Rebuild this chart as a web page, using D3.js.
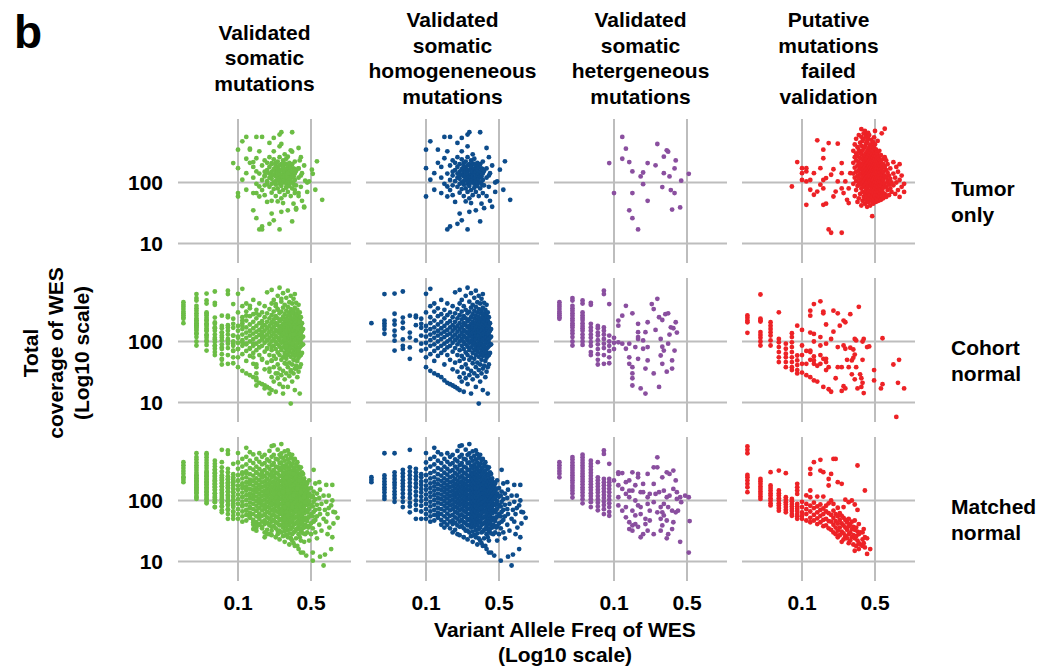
<!doctype html>
<html>
<head>
<meta charset="UTF-8">
<title>VAF vs coverage of WES</title>
<script src="https://cdn.jsdelivr.net/npm/d3@7"></script>
<style>
  body { margin: 0; background: #fff; }
  text { font-family: "Liberation Sans", Arial, Helvetica, sans-serif; font-weight: bold; fill: #000; }
  .grid { stroke: #bdbdbd; stroke-width: 2px; }
</style>
</head>
<body>
<svg id="chart" width="1039" height="668"></svg>
<script>
// Facet labels and ticks
const columnTitles = [
  ["Validated", "somatic", "mutations"],
  ["Validated", "somatic", "homogeneneous", "mutations"],
  ["Validated", "somatic", "hetergeneous", "mutations"],
  ["Putative", "mutations", "failed", "validation"]
];
const rowTitles = [["Tumor", "only"], ["Cohort", "normal"], ["Matched", "normal"]];
const xTicks = [0.1, 0.5];
const yTicks = [10, 100];
const colColors = ["#6cbd45", "#0d4c8b", "#8a4f9f", "#ed2226"];

// Points grouped by VAF (2 decimals) -> "vaf:depth,depth,...|vaf:..."
const tumorHomo = "0.10:345,172,59|0.11:474,111|0.12:142,76|0.13:345,210|0.14:67,180,120|0.15:559,95,250|0.16:86,59,324,140,17|0.17:559,190,19,110,75|0.18:150,230,130,90,62|0.19:210,105,160,48|0.20:445,120,180,85,260,21,140|0.21:31,200,95,150,68,115,130|0.22:538,324,165,100,24,135,78,240|0.23:185,125,60,210,92,150,105|0.24:49,150,110,220,170,80,130|0.25:610,392,17,140,95,190,115,70,260,160|0.26:667,33,160,105,125,200,88,55|0.27:46,180,135,75,230,100,120,155|0.28:150,110,205,62,125,290|0.29:170,95,140,82,245,115,200|0.30:35,120,190,150,70,105|0.31:210,130,88,160,100,180|0.32:115,175,60,140|0.33:667,23,100,150,200,80,125|0.34:125,170,45,95|0.35:67,140,110,220,90,165|0.36:90,155,38|0.38:368,120,170,60|0.40:130,85,260|0.41:142,50|0.43:40,190|0.46:100,70|0.48:104|0.51:162|0.55:76|0.57:222|0.64:52";
const tumorHetero = "0.09:208|0.10:67|0.12:559,245|0.13:359|0.14:216,35|0.15:152,67,26|0.17:17|0.18:126|0.19:146,94|0.21:208,50|0.25:191|0.26:428|0.29:84|0.30:265,142|0.32:337|0.33:320|0.34:126|0.35:75|0.36:36|0.38:170,67|0.39:230|0.43:39|0.44:107|0.52:139";
const tumorFailed = "0.08:86|0.09:216|0.10:172,142,110|0.11:104,152,172,43|0.12:76,110|0.13:142,63|0.14:492,71|0.15:92,172|0.16:345,250,110,43,80|0.17:45,118|0.18:443,17|0.19:134,15|0.20:59,165|0.21:71|0.22:433,104|0.24:80,208,142,15|0.25:67|0.26:104|0.27:52|0.28:80,46|0.29:142|0.31:95,140,210,330|0.32:60,120,175,260,420|0.33:75,105,150,230,300,520|0.34:48,88,130,190,270,380|0.35:55,100,118,160,215,340,600|0.36:65,92,140,180,250,310,450|0.37:42,80,110,135,170,200,290,400,560,750|0.38:50,70,98,125,155,190,235,330,480|0.39:58,85,105,145,165,210,260,360,520,640|0.40:45,66,90,115,130,150,175,220,280,390,700|0.41:52,75,95,120,140,160,195,240,300,430,580|0.42:40,60,82,100,125,145,170,205,250,320,470|0.43:48,68,88,110,132,150,180,215,270,350,520,650|0.44:55,72,95,115,138,158,190,230,290,380,600|0.45:42,62,85,105,125,148,172,200,240,310,420|0.46:50,70,92,112,135,160,185,220,265,340,500|0.47:28,58,78,98,120,142,168,195,235,290,390|0.48:45,65,88,108,130,152,178,210,255,330,460|0.49:52,75,95,118,140,165,190,230,280,370,550|0.50:60,82,102,125,150,175,205,245,300,420,700|0.51:48,70,90,115,138,160,185,220,270,350|0.52:55,78,100,122,148,172,200,240,310|0.53:62,85,110,135,160,190,230,290,480|0.54:50,72,95,120,145,175,210,260|0.55:58,80,105,130,160,195,240,330|0.56:65,90,115,145,180,225|0.57:52,75,100,130,165,210,280|0.58:60,88,120,150,190,640|0.59:70,98,135,175,240|0.60:55,82,110,150,200|0.62:65,95,130,180,260,760|0.64:58,85,120,160,230|0.66:75,105,145,200|0.68:62,92,130|0.70:80,115,170|0.72:70,100|0.75:90,140,215|0.78:65,120|0.80:100,180|0.83:75,150|0.86:58,110,200|0.90:85,130|0.95:70,95";

const cohortHomo = "0.03:200|0.04:600,220,200,180,160,134|0.05:610,285,220,190,150,125,103,71|0.06:660,247,205,165,108,85,76|0.07:265,140,116,80,52|0.08:265,250,185,104|0.09:236,195,168,125,92,71|0.10:605,300,180,150,120,95,75,55,38|0.11:730,380,250,200,160,130,105,85,62,33|0.12:420,310,220,170,140,115,90,70,48,30|0.13:350,260,190,150,125,100,78,58,28|0.14:480,280,210,165,135,110,85,65,26|0.15:330,240,180,145,118,92,72,42,23|0.16:420,270,200,155,128,100,80,60,21|0.17:300,215,170,135,108,85,50,20|0.18:380,250,185,150,120,95,68,35,19|0.19:640,290,210,165,130,105,78,45,18|0.20:340,240,180,145,115,90,60,32,17|0.21:700,420,270,200,160,125,100,72,48,26,16|0.22:480,310,230,175,140,110,85,58,38,22|0.23:380,260,200,155,125,98,75,52,30,15|0.24:560,330,240,185,145,115,90,66,42,25|0.25:760,290,215,170,135,105,82,60,36,20|0.26:450,310,230,180,148,120,95,72,50,28|0.27:620,360,250,195,160,130,102,80,55,33,14|0.28:400,280,210,170,150,138,112,98,88,65,44,24|0.29:520,320,240,190,150,122,96,74,52,30|0.30:680,370,265,205,165,135,120,108,84,72,60,38,18|0.31:440,300,225,178,145,118,92,68,45,27|0.32:560,340,250,195,155,140,125,100,88,78,56,34,9.6|0.33:420,290,215,170,140,112,88,64,42,22|0.34:500,320,235,185,150,120,105,95,72,62,50,30|0.35:600,360,260,200,160,130,104,80,58,36,16|0.36:430,290,215,172,140,125,110,86,74,62,40|0.37:330,240,185,148,118,92,70,48,26|0.38:400,270,200,160,128,115,100,76,66,54,32|0.39:300,220,170,135,105,80,58,38,14|0.40:250,180,140,125,110,95,84,60,42|0.41:200,150,115,88,65|0.42:160,120,90";
const cohortHetero = "0.03:440,400,370,340,310,290,270,250,235|0.04:515,470,385,350,320,290,265,240,220,200,185,170,150,135,118,100,86|0.05:470,420,300,270,245,225,200,180,165,150,130,115,100,88|0.06:430,400,195,170,150,130,115,98,85,67,60|0.07:180,165,140,125,105,90,75,62,50,42|0.08:680,600,170,150,130,110,92,78,60,43|0.09:410,125,100,85,70,55,44|0.10:115,95,75|0.11:220,182,97|0.12:265,92|0.13:385,76|0.14:55,92,43|0.15:290,38,30,25,19|0.16:81|0.17:52,195,142,110,118|0.18:17|0.19:76,104|0.20:142,14,36|0.21:207,81,49|0.23:410|0.24:340,30|0.25:155|0.26:500|0.27:250,18|0.28:110,59|0.29:225,82,43|0.30:71|0.31:280|0.32:32|0.33:290,92|0.34:130|0.35:171|0.36:36,49|0.37:165|0.38:71|0.39:207|0.40:140";
const cohortFailed = "0.03:267,245,221,207,139|0.04:590,236,224,212,143,128,115,100,86|0.05:207,182,161,142,125,104,86|0.06:301,110,97,81,67,55,46|0.07:92,76,63,55,46,38|0.08:137,118,97,81,67,55,46,38,34|0.09:182,59,49,41,34,30|0.10:31,155,86,43,60|0.11:28,43,70|0.12:320,265,26,140,71,67,50|0.13:410,23,133,57,43,49,100|0.14:22,40|0.15:455,118,43,86,60|0.16:310,290,18,52|0.17:190,92,52,46,34|0.18:16.5,38|0.19:15,110|0.20:320,145|0.21:25|0.22:290,38,81|0.23:182|0.24:38,15.5|0.25:220,86,18.5|0.26:207,76,17|0.27:50|0.28:38|0.29:280,79|0.30:49,29|0.31:74,54|0.32:61,110,24|0.33:38,104|0.34:17|0.35:370|0.36:29|0.37:25,18|0.38:50,100,21|0.39:110,14.3|0.42:81|0.44:83|0.49:34,23|0.57:17|0.59:20,113|0.75:42|0.80:5.8|0.83:21|0.85:50|0.95:17";

const matchedHomo = "0.03:241,218,200|0.04:595,257,230,205,185,165,150,135,118,106|0.05:595,290,255,225,200,180,160,140,125,110,95|0.06:318,280,245,215,190,170,150,130,112,95,78|0.07:676,350,300,260,225,195,170,148,128,110,92,80,64|0.08:330,290,250,220,190,165,140,120,100,85,70,50|0.09:270,240,205,180,155,135,115,98,82,66,50|0.10:600,420,330,260,210,175,150,125,105,88,72,60,50|0.11:480,360,280,230,190,160,135,115,95,80,66,55,45|0.12:730,520,390,300,240,200,170,145,122,102,85,70,58,47|0.13:620,450,340,270,220,185,155,130,110,92,76,63,57,52|0.14:570,410,320,255,210,175,148,125,105,88,72,60,48,40|0.15:480,360,285,230,192,162,138,116,98,82,68,55,44,36|0.16:595,430,330,265,215,180,152,128,108,90,75,61,50,40|0.17:520,390,300,240,198,166,140,118,99,83,69,56,45,35|0.18:560,410,315,250,205,172,145,122,103,86,72,58,47,41,30|0.19:470,360,280,225,188,158,134,113,95,79,65,53,43,33|0.20:650,440,330,262,212,178,150,127,107,90,75,62,50,39,28|0.21:780,520,380,295,238,196,165,140,118,99,83,69,56,45,37,27|0.22:800,560,410,315,250,205,172,146,123,104,87,72,59,48,38|0.23:480,360,285,230,192,162,137,116,98,82,68,55,44,35,25|0.24:680,470,350,275,222,185,156,132,112,94,79,65,53,42,32|0.25:560,410,315,252,208,174,147,124,105,88,73,60,48,39,32,23|0.26:840,590,420,320,255,210,176,148,125,106,89,74,61,50,40,30|0.27:500,370,290,235,195,164,139,118,100,84,70,57,46,36,26|0.28:640,450,340,270,220,184,155,131,111,93,78,64,52,41,31,21|0.29:540,390,300,242,200,168,142,120,101,85,71,58,47,37,27|0.30:660,470,350,275,225,188,158,134,113,95,80,66,54,43,33,25|0.31:580,420,320,255,210,176,148,125,106,89,74,61,49,39,29,19|0.32:500,370,290,235,194,162,137,116,98,82,68,55,44,34,24|0.33:560,400,305,245,200,168,142,120,101,85,70,57,46,36,22|0.34:460,340,265,215,178,150,127,107,90,75,62,50,40,30,20|0.35:480,350,275,222,184,155,131,110,93,78,64,52,41,31,18|0.36:400,300,238,195,163,137,116,97,81,67,54,43,33,24|0.37:425,310,245,200,166,140,118,99,83,68,55,44,34,18|0.38:360,275,220,182,152,128,108,90,75,61,49,38,28,16|0.39:330,255,205,170,143,120,100,84,69,56,44,34,25|0.40:350,260,205,168,140,117,97,80,65,52,41,31,22,14|0.41:290,225,180,150,125,104,86,70,56,44,34|0.42:273,210,170,140,115,95,78,63,50,39,29,14|0.43:230,180,145,118,96,78,62,48,36|0.44:200,160,130,105,85,68,52,40,28|0.45:170,135,108,86,68,52,38,12.5|0.46:190,140,110,85,64,46,30|0.47:155,118,90,70,52,36|0.48:213,130,98,74,55,38,22|0.50:160,115,85,60,42,28|0.52:120,80,55,35,10.3|0.53:318,140,95,65,45|0.55:190,105,70,48,30|0.57:130,85,55,24|0.60:200,110,72,40|0.61:150,60,12|0.63:88,32|0.66:120,50,8.6|0.68:70,13|0.70:180,95,45|0.72:60,28|0.74:120,75|0.75:36|0.78:83,16|0.80:180,100,25|0.82:65,42|0.85:64|0.90:52";
const matchedHetero = "0.03:425,380,340,305,275,240|0.04:515,470,420,380,345,315,285,260,235,215,195,175,160,145,130,112|0.05:565,510,460,415,375,340,305,275,250,225,205,185,165,150,135,120,105,90|0.06:450,400,360,320,285,255,228,205,185,165,148,132,118,105,94,78|0.07:425,240,215,190,170,150,135,118,104,92,80,69|0.08:660,580,225,200,178,158,140,124,110,96,84,72,60|0.09:400,225,200,176,155,136,118,103,90,78,65,56|0.10:213|0.11:273,290,178,113,83|0.12:282,155,68|0.13:200,78,53,128|0.14:44,34,213,113,145|0.15:290,39,32,145,68|0.16:41,100,178,57|0.17:37,83,273,240|0.18:78,60,25,137|0.19:28,137,187|0.20:50,41|0.21:32,88,113,273|0.22:68,128,47|0.24:28,94,187,350|0.25:128|0.26:350,510,64|0.27:137|0.28:32,50,78|0.29:39,64,240|0.30:88,57,145|0.32:24,47,290,113|0.33:28,78|0.34:273,120|0.36:34,68|0.37:44,310,155|0.39:213,64|0.40:137,106|0.41:68|0.43:113,21|0.44:94|0.48:120|0.52:113,14|0.53:46";
const matchedFailed = "0.03:768,676,595,263,241,213,188,165,137|0.04:226,207,188,170,155,140,128,116,106|0.05:291,176,161,146,132,121,109,100,90,83|0.06:310,146,132,121,109,100,90,83,75,68|0.07:281,113,103,94,86,78,70,64|0.08:106,97,88,80,73,67,60,56|0.09:188,165,146,128,88,80,73,67,60,55,50|0.10:95,78,64,56,50|0.11:121,88,72,60,47|0.12:330,273,146,113,82,66,52,44|0.13:425,92,75,58,47|0.14:116,80,64,51,41|0.15:465,310,86,70,56,44|0.16:291,116,74,60,48,38|0.17:82,66,50,39|0.18:225,176,90,62,46,35|0.19:273,100,58,45,33|0.20:480,88,68,52,40,30|0.21:480,60,46,36,28|0.22:200,76,55,42,32,25|0.23:62,48,36,27|0.24:188,56,42,31,21|0.25:78,52,39,29,23|0.26:103,48,36,26|0.27:44,33,24|0.28:94,50,38,28,20|0.29:41,30,22|0.30:100,45,34,25|0.31:37,27,19|0.32:86,47,33,24,15|0.33:36,26,18|0.34:375,70,31,22|0.35:41,28,20,16|0.36:30,19|0.38:30,23,18|0.39:34,20|0.40:146,25,17|0.42:24,13.3|0.45:16";

function parse(s) {
  return s.split("|").flatMap(g => {
    const [v, ds] = g.split(":");
    return ds.split(",").map(d => ({ vaf: +v, depth: +d }));
  });
}

const homo = [tumorHomo, cohortHomo, matchedHomo].map(parse);
const hetero = [tumorHetero, cohortHetero, matchedHetero].map(parse);
const failed = [tumorFailed, cohortFailed, matchedFailed].map(parse);
// validated somatic = homogeneous + heterogeneous
const panels = rowTitles.map((_, r) => [homo[r].concat(hetero[r]), homo[r], hetero[r], failed[r]]);

const svg = d3.select("#chart");
const panelW = 173, panelH = 144;
const x0 = 178, y0 = 119, stepX = 188, stepY = 159;
const fs = "21px";

const x = d3.scaleLog().domain([0.02663, 1.208]).range([0, panelW]);
const y = d3.scaleLog().domain([4.79, 1099]).range([panelH, 0]);

panels.forEach((row, r) => {
  row.forEach((pts, c) => {
    const g = svg.append("g")
      .attr("transform", `translate(${x0 + c * stepX},${y0 + r * stepY})`);

    g.selectAll(".vline").data(xTicks).enter().append("line")
      .attr("class", "grid")
      .attr("x1", d => x(d)).attr("x2", d => x(d))
      .attr("y1", 0).attr("y2", panelH);
    g.selectAll(".hline").data(yTicks).enter().append("line")
      .attr("class", "grid")
      .attr("x1", 0).attr("x2", panelW)
      .attr("y1", d => y(d)).attr("y2", d => y(d));

    g.selectAll("circle").data(pts).enter().append("circle")
      .attr("cx", d => x(d.vaf))
      .attr("cy", d => y(d.depth))
      .attr("r", 2.4)
      .attr("fill", colColors[c]);
  });

  // y tick labels
  svg.selectAll(null).data(yTicks).enter().append("text")
    .attr("x", 163)
    .attr("y", d => y0 + r * stepY + y(d))
    .attr("dy", "0.36em")
    .attr("text-anchor", "end")
    .style("font-size", fs)
    .text(d => d);

  // row labels on the right
  svg.append("text")
    .attr("x", 951)
    .attr("y", y0 + r * stepY + 77)
    .style("font-size", fs)
    .selectAll("tspan").data(rowTitles[r]).enter().append("tspan")
      .attr("x", 951)
      .attr("dy", (d, i) => i ? 25.5 : 0)
      .text(d => d);
});

// column titles
columnTitles.forEach((lines, c) => {
  const cx = x0 + c * stepX + panelW / 2;
  lines.forEach((t, i) => {
    svg.append("text")
      .attr("x", cx)
      .attr("y", 65.25 + (i - (lines.length - 1) / 2) * 25.5)
      .attr("text-anchor", "middle")
      .style("font-size", fs)
      .text(t);
  });
});

// x tick labels under the last row
d3.range(4).forEach(c => {
  svg.selectAll(null).data(xTicks).enter().append("text")
    .attr("x", d => x0 + c * stepX + x(d))
    .attr("y", 610)
    .attr("text-anchor", "middle")
    .style("font-size", fs)
    .text(d => d);
});

// axis titles
["Variant Allele Freq of WES", "(Log10 scale)"].forEach((t, i) => {
  svg.append("text")
    .attr("x", 565).attr("y", 637 + i * 25)
    .attr("text-anchor", "middle")
    .style("font-size", fs)
    .text(t);
});
["Total", "coverage of WES", "(Log10 scale)"].forEach((t, i) => {
  svg.append("text")
    .attr("transform", `translate(${37.5 + i * 25.5},353) rotate(-90)`)
    .attr("text-anchor", "middle")
    .style("font-size", fs)
    .text(t);
});

// panel letter
svg.append("text")
  .attr("x", 14).attr("y", 48)
  .style("font-size", "46px")
  .text("b");
</script>
</body>
</html>
